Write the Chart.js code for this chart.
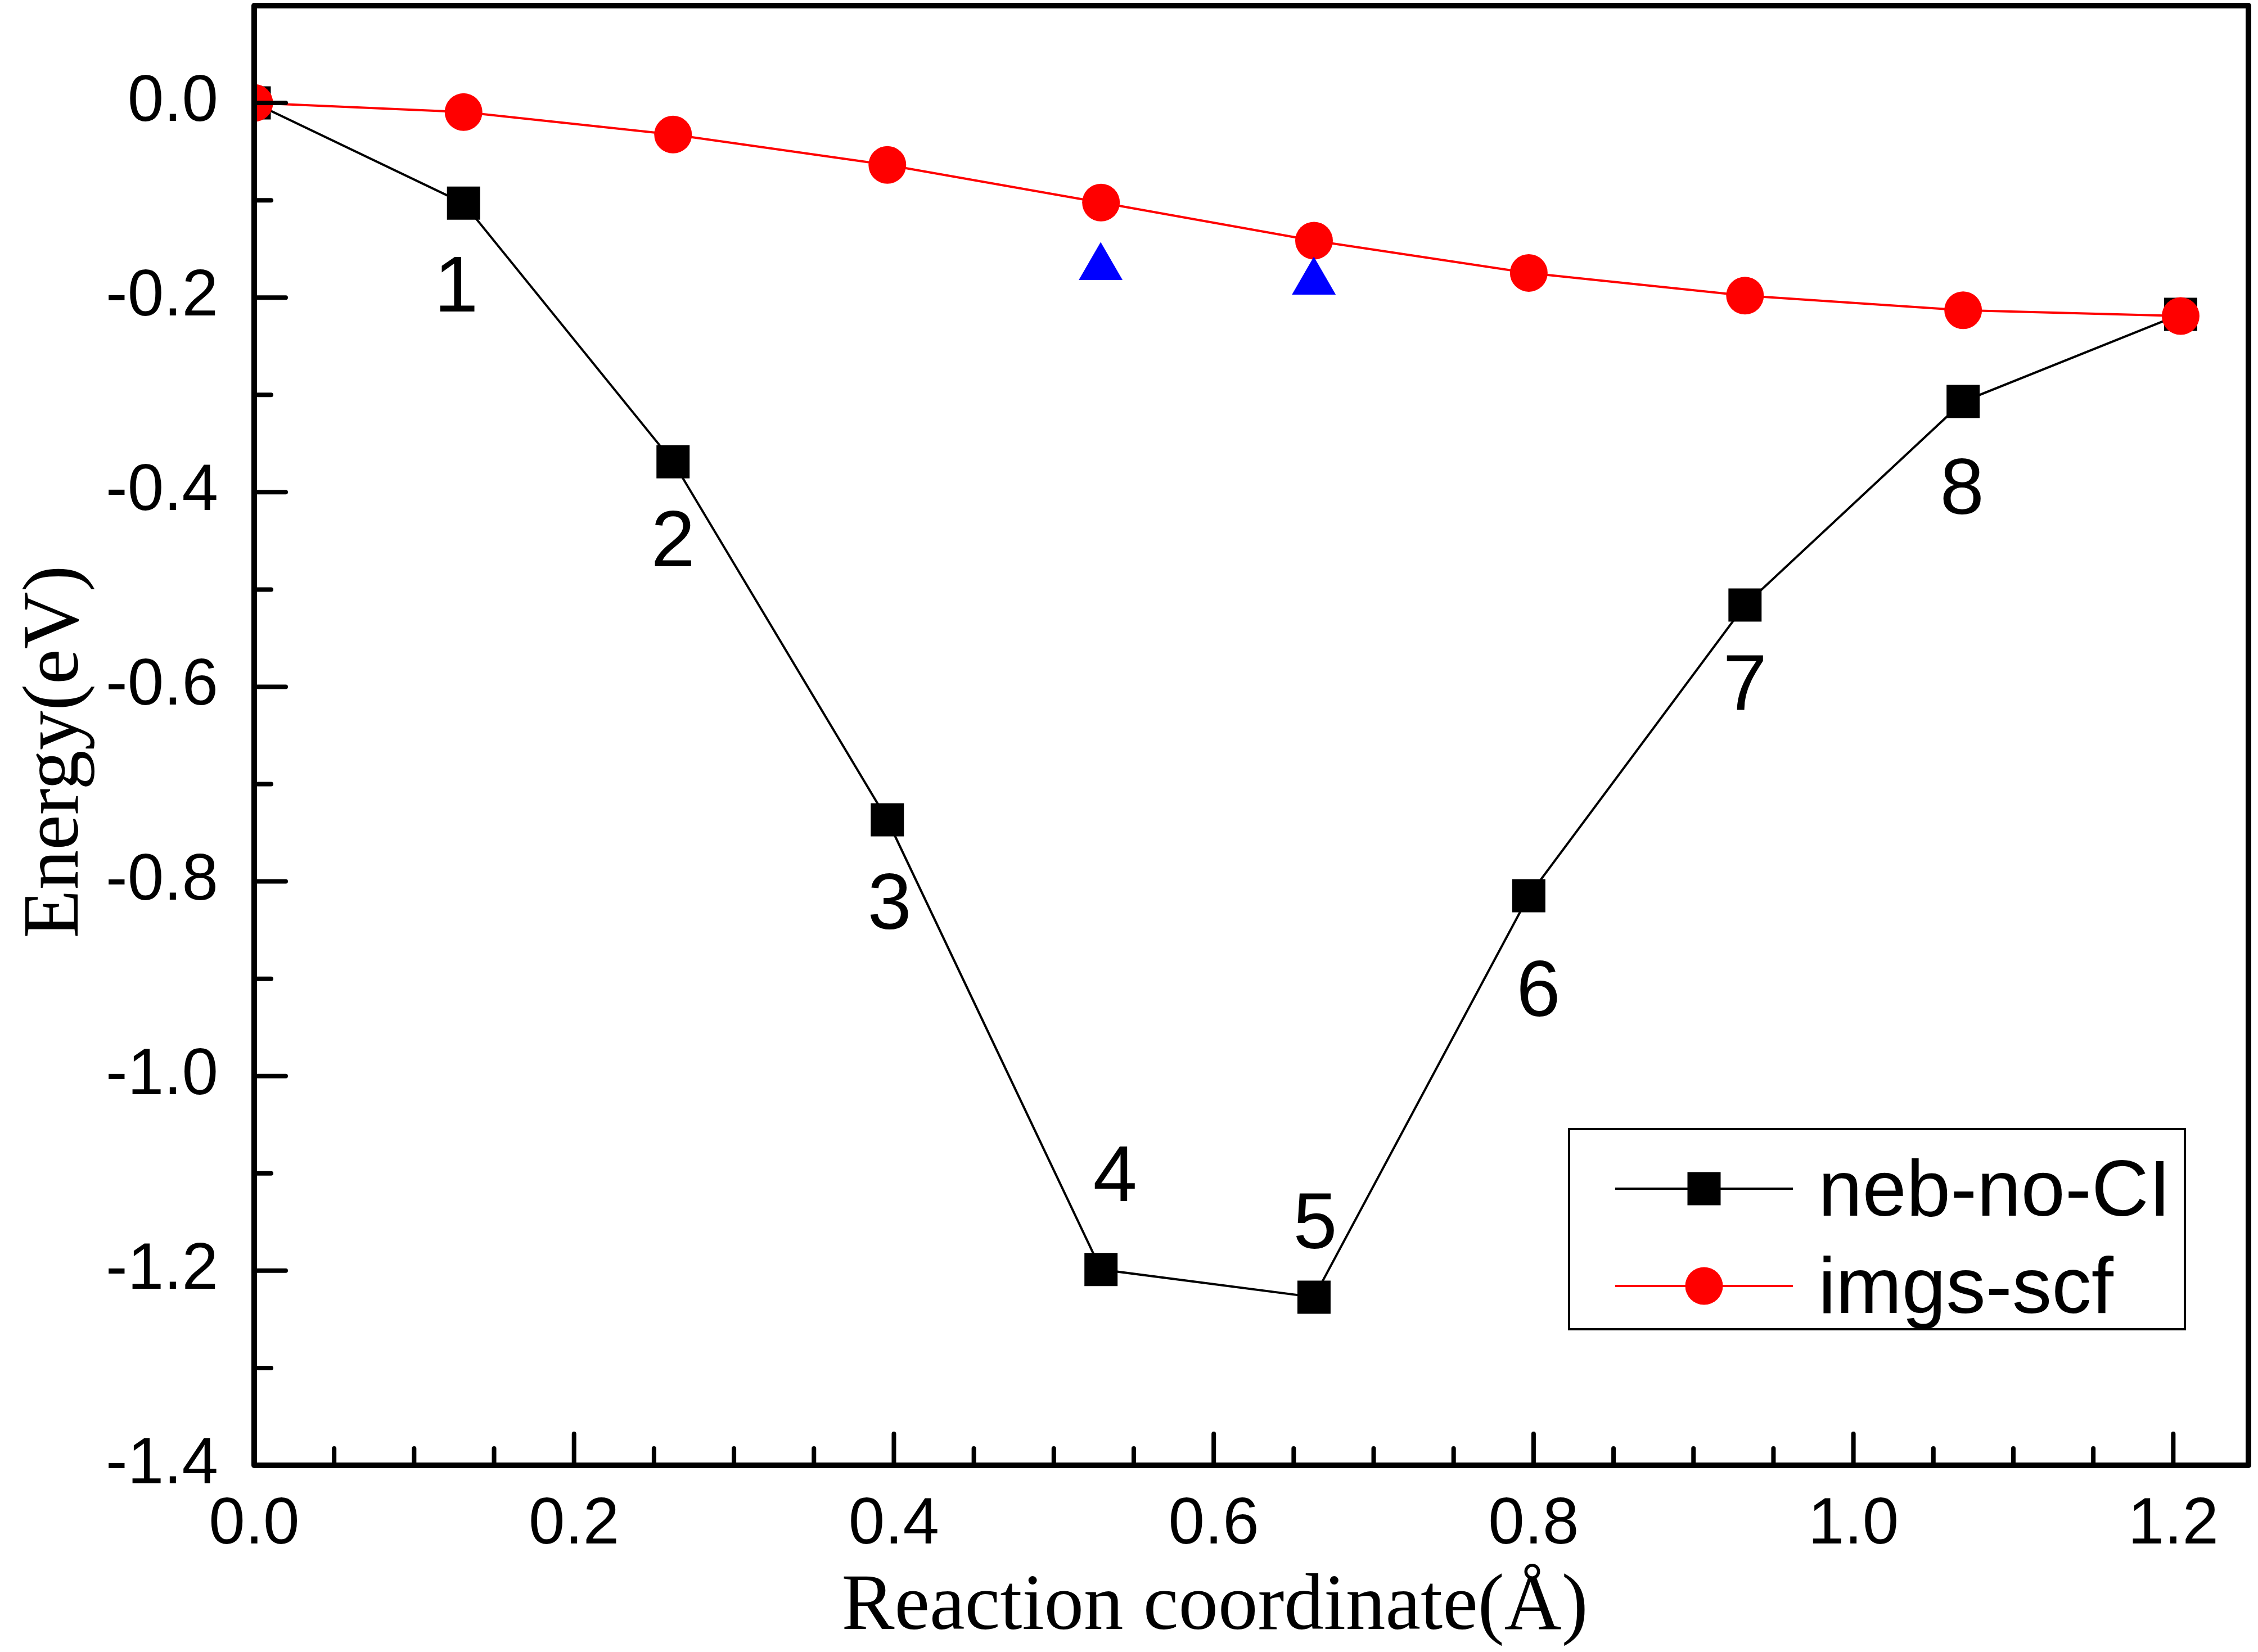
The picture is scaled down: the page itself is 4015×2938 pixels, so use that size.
<!DOCTYPE html>
<html><head><meta charset="utf-8">
<script src="https://cdn.jsdelivr.net/npm/chart.js@4.4.1/dist/chart.umd.min.js"></script>
<style>html,body{margin:0;padding:0;background:#fff}canvas{display:block}</style>
</head><body>
<canvas id="c" width="4015" height="2938"></canvas>
<script>
// ---- data ----
const reactionCoord = [0, 0.1309, 0.2619, 0.3959, 0.5295, 0.6627, 0.797, 0.9322, 1.0686, 1.2046];
const nebNoCI      = [0, -0.103, -0.3688, -0.7367, -1.1988, -1.2272, -0.8147, -0.516, -0.3068, -0.2172];
const imgsScf      = [0, -0.0094, -0.0325, -0.0637, -0.1024, -0.1415, -0.1747, -0.198, -0.213, -0.219];
const triangleX    = [0.5293, 0.6626];
const triangleY    = [-0.169, -0.184];
const imageLabels  = ['1','2','3','4','5','6','7','8'];   // images 1..8 of neb-no-CI
const seriesNames  = ['neb-no-CI', 'imgs-scf'];
const xTickValues  = [0.0, 0.2, 0.4, 0.6, 0.8, 1.0, 1.2];
const yTickValues  = [0.0, -0.2, -0.4, -0.6, -0.8, -1.0, -1.2, -1.4];
const xTitle = 'Reaction coordinate(Å)';
const yTitle = 'Energy(eV)';

// ---- styling ----
const SANS = 'Liberation Sans';
const SERIF = 'Liberation Serif';
const labelOffsets = [[-13,152],[0,145],[4,154],[25,-162],[2,-127],[17,174],[0,147],[-2,160]];

const toXY = (xs, ys) => xs.map((x, i) => ({x: x, y: ys[i]}));

const framePlugin = {
  id: 'frame',
  afterDatasetsDraw(chart) {
    const {ctx, chartArea: a, scales: {x, y}} = chart;
    ctx.save();
    ctx.strokeStyle = '#000';
    ctx.lineCap = 'round';
    ctx.lineWidth = 8;
    // x ticks (inward): major every 0.2, minor every 0.05
    for (let k = 0; k * 0.05 <= x.max + 1e-9; k++) {
      const px = x.getPixelForValue(k * 0.05);
      const len = (k % 4 === 0) ? 56 : 30;
      ctx.beginPath(); ctx.moveTo(px, a.bottom); ctx.lineTo(px, a.bottom - len); ctx.stroke();
    }
    // y ticks (inward): major every 0.2, minor every 0.1
    for (let k = 0; k <= 15; k++) {
      const py = y.getPixelForValue(-1.4 + k * 0.1);
      const len = (k % 2 === 0) ? 56 : 30;
      ctx.beginPath(); ctx.moveTo(a.left, py); ctx.lineTo(a.left + len, py); ctx.stroke();
    }
    // frame
    ctx.lineWidth = 10;
    ctx.lineJoin = 'round';
    ctx.strokeRect(a.left, a.top, a.right - a.left, a.bottom - a.top);
    ctx.restore();
  },
  afterDraw(chart) {
    const {ctx, scales: {x, y}} = chart;
    ctx.save();
    ctx.fillStyle = '#000';
    // image number labels
    ctx.font = '141px "' + SANS + '"';
    ctx.textAlign = 'center';
    ctx.textBaseline = 'middle';
    imageLabels.forEach((t, i) => {
      const px = x.getPixelForValue(reactionCoord[i + 1]) + labelOffsets[i][0];
      const py = y.getPixelForValue(nebNoCI[i + 1]) + labelOffsets[i][1];
      ctx.fillText(t, px, py + 1.5);
    });
    // axis titles
    ctx.font = '141px "' + SERIF + '"';
    ctx.textBaseline = 'alphabetic';
    ctx.fillText(xTitle, 2160, 2897);
    ctx.save();
    ctx.translate(138, 1337);
    ctx.rotate(-Math.PI / 2);
    ctx.fillText(yTitle, 0, 0);
    ctx.restore();
    // legend
    ctx.lineWidth = 4;
    ctx.strokeStyle = '#000';
    ctx.strokeRect(2790, 2008, 1095, 356);
    const rows = [
      {y: 2114, base: 2162, color: '#000000', style: 'rect', name: seriesNames[0]},
      {y: 2287, base: 2335, color: '#ff0000', style: 'circle', name: seriesNames[1]}
    ];
    rows.forEach(r => {
      ctx.strokeStyle = r.color; ctx.fillStyle = r.color; ctx.lineWidth = 4;
      ctx.beginPath(); ctx.moveTo(2872, r.y); ctx.lineTo(3188, r.y); ctx.stroke();
      if (r.style === 'rect') {
        ctx.fillRect(3030 - 29.5, r.y - 29.5, 59, 59);
      } else {
        ctx.beginPath(); ctx.arc(3030, r.y, 33.5, 0, Math.PI * 2); ctx.fill();
      }
      ctx.fillStyle = '#000';
      ctx.font = '141px "' + SANS + '"';
      ctx.textAlign = 'left';
      ctx.textBaseline = 'alphabetic';
      ctx.fillText(r.name, 3233, r.base);
    });
    ctx.restore();
  }
};

new Chart(document.getElementById('c'), {
  type: 'line',
  data: {
    datasets: [
      {label: 'triangles', data: toXY(triangleX, triangleY), showLine: false,
       pointStyle: 'triangle', pointRadius: 45, pointBorderWidth: 0,
       backgroundColor: '#0000ff', borderColor: '#0000ff'},
      {label: seriesNames[1], data: toXY(reactionCoord, imgsScf),
       borderColor: '#ff0000', backgroundColor: '#ff0000', borderWidth: 4,
       pointStyle: 'circle', pointRadius: 33.5, pointBorderWidth: 0, tension: 0},
      {label: seriesNames[0], data: toXY(reactionCoord, nebNoCI),
       borderColor: '#000000', backgroundColor: '#000000', borderWidth: 4,
       pointStyle: 'rect', pointRadius: 41.7, pointBorderWidth: 0, tension: 0}
    ]
  },
  options: {
    responsive: false,
    animation: false,
    devicePixelRatio: 1,
    events: [],
    layout: {autoPadding: false, padding: {top: 10, right: 17, bottom: 0, left: 0}},
    plugins: {legend: {display: false}, tooltip: {enabled: false}},
    scales: {
      x: {
        type: 'linear', min: 0, max: 1.247,
        grid: {display: false, drawTicks: false}, border: {display: false},
        afterBuildTicks: s => { s.ticks = xTickValues.map(v => ({value: v})); },
        afterFit: s => { s.height = 332; s.paddingLeft = 0; s.paddingRight = 0; s.paddingTop = 0; s.paddingBottom = 0; },
        ticks: {padding: 37, color: '#000', font: {family: SANS, size: 116},
                maxRotation: 0, autoSkip: false, callback: v => Number(v).toFixed(1)}
      },
      y: {
        type: 'linear', min: -1.4, max: 0.1,
        grid: {display: false, drawTicks: false}, border: {display: false},
        afterBuildTicks: s => { s.ticks = yTickValues.map(v => ({value: v})); },
        afterFit: s => { s.width = 452; s.paddingTop = 0; s.paddingBottom = 0; s.paddingLeft = 0; s.paddingRight = 0; },
        ticks: {padding: 64, color: '#000', font: {family: SANS, size: 116},
                autoSkip: false, callback: v => Number(v).toFixed(1)}
      }
    }
  },
  plugins: [framePlugin]
});
</script>
</body></html>
